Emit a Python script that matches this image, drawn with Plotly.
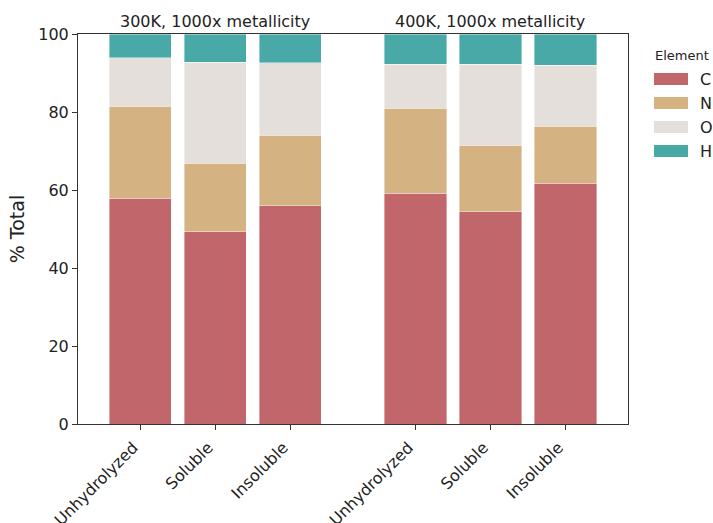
import plotly.graph_objects as go

categories = ["Unhydrolyzed", "Soluble", "Insoluble", "Unhydrolyzed", "Soluble", "Insoluble"]
positions = [0, 1, 2, 3.667, 4.667, 5.667]
group_titles = ["300K, 1000x metallicity", "400K, 1000x metallicity"]
group_title_pos = [1, 4.667]

elements = ["C", "N", "O", "H"]
C_vals = [57.9, 49.3, 55.9, 59.2, 54.4, 61.7]
N_vals = [23.6, 17.5, 18.1, 21.7, 17.1, 14.6]
O_vals = [12.4, 26.0, 18.6, 11.3, 20.7, 15.7]
H_vals = [6.1, 7.2, 7.4, 7.8, 7.8, 8.0]
series = [C_vals, N_vals, O_vals, H_vals]
colors = ["#C1666B", "#D4B281", "#E4DFDB", "#48A9A6"]

FONT = "DejaVu Sans"
W, H = 713, 523
ML, MR, MT, MB = 78, 85, 34, 99
PW, PH = W - ML - MR, H - MT - MB


def px_x(px):
    return (px - ML) / PW


def px_y(py):
    return (H - MB - py) / PH


fig = go.Figure()
for name, vals, col in zip(elements, series, colors):
    fig.add_trace(go.Bar(
        x=positions, y=vals, name=name, width=0.83,
        marker=dict(color=col, line=dict(color="rgba(255,255,255,0.5)", width=0.8)),
        showlegend=False,
    ))

for t, xp in zip(group_titles, group_title_pos):
    fig.add_annotation(x=xp, xref="x", y=1, yref="paper", yanchor="bottom",
                       text=t, showarrow=False, yshift=1,
                       font=dict(family=FONT, size=16, color="#222"))

# custom legend (matplotlib-style wide swatches)
fig.add_annotation(x=px_x(653), xref="paper", y=px_y(55), yref="paper",
                   xanchor="left", yanchor="middle", text="Element", showarrow=False,
                   font=dict(family=FONT, size=13, color="#222"))
for i, (name, col) in enumerate(zip(elements, colors)):
    cy = 79 + 24 * i
    fig.add_shape(type="rect", xref="paper", yref="paper",
                  x0=px_x(654), x1=px_x(688), y0=px_y(cy + 6), y1=px_y(cy - 6),
                  fillcolor=col, line=dict(width=0))
    fig.add_annotation(x=px_x(698), xref="paper", y=px_y(cy), yref="paper",
                       xanchor="left", yanchor="middle", text=name, showarrow=False,
                       font=dict(family=FONT, size=16, color="#222"))

fig.update_layout(
    width=W, height=H,
    margin=dict(l=ML, r=MR, t=MT, b=MB),
    barmode="stack",
    showlegend=False,
    paper_bgcolor="white", plot_bgcolor="white",
    font=dict(family=FONT, size=16, color="#222"),
    xaxis=dict(
        range=[-0.83, 6.5], tickvals=positions, ticktext=categories,
        tickangle=-45, ticks="outside", ticklen=5, tickwidth=1, tickcolor="#333",
        showline=True, linecolor="#333", linewidth=1, mirror=True,
        showgrid=False, zeroline=False, automargin=False,
        ticklabelshift=-7, ticklabelstandoff=2,
        tickfont=dict(family=FONT, size=16, color="#222"),
    ),
    yaxis=dict(
        range=[0, 100], tickvals=[0, 20, 40, 60, 80, 100],
        ticks="outside", ticklen=5, tickwidth=1, tickcolor="#333",
        showline=True, linecolor="#333", linewidth=1, mirror=True,
        showgrid=False, zeroline=False, automargin=False,
        tickfont=dict(family=FONT, size=16, color="#222"),
        title=dict(text="% Total", font=dict(family=FONT, size=19, color="#222"), standoff=8),
    ),
)

fig.write_html("out.html", config={"displayModeBar": False},
               post_script="document.body.style.margin='0';document.body.style.padding='0';")
